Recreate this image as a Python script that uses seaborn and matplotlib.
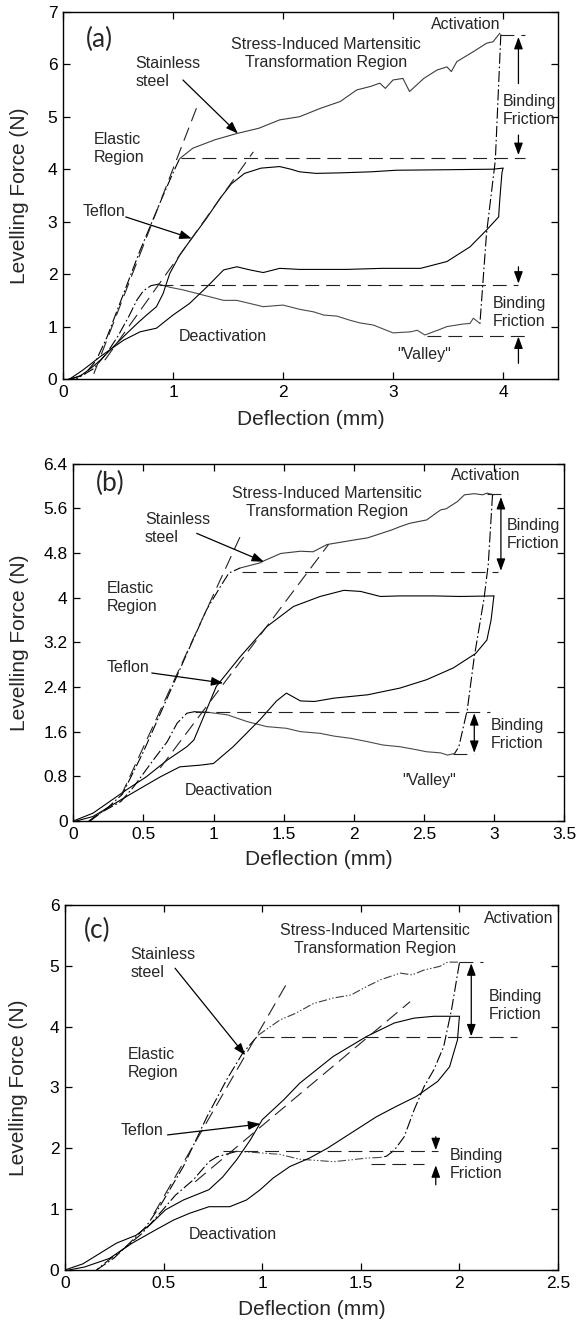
import numpy as np
import seaborn as sns
import matplotlib
import matplotlib.pyplot as plt
from matplotlib.ticker import FuncFormatter

# ---------------- panel (a) ----------------
a_ss_load_x = [0.08, 0.2, 0.3, 0.4, 0.5, 0.6, 0.7, 0.8, 0.9, 1.0, 1.06]
a_ss_load_y = [0.0, 0.1, 0.35, 0.8, 1.35, 1.9, 2.45, 2.95, 3.45, 3.93, 4.2]
a_ss_plat_x = [1.06, 1.18, 1.38, 1.58, 1.78, 1.97, 2.15, 2.34, 2.52, 2.67, 2.80, 2.88,
               2.93, 3.0, 3.09, 3.15, 3.28, 3.40, 3.49, 3.53, 3.58, 3.73, 3.85, 3.91, 3.97]
a_ss_plat_y = [4.2, 4.40, 4.56, 4.68, 4.78, 4.94, 5.0, 5.16, 5.29, 5.51, 5.58, 5.64,
               5.54, 5.70, 5.73, 5.48, 5.73, 5.89, 5.95, 5.86, 6.05, 6.24, 6.40, 6.43, 6.59]
a_ss_unload_x = [3.98, 3.93, 3.85, 3.79]
a_ss_unload_y = [6.57, 4.17, 2.78, 1.06]
a_ss_deact_x = [3.79, 3.73, 3.70, 3.64, 3.49, 3.43, 3.29, 3.22, 3.16, 3.0, 2.94, 2.82, 2.70,
                2.61, 2.49, 2.37, 2.28, 2.15, 2.0, 1.82, 1.58, 1.46, 1.22, 1.09, 0.97, 0.87]
a_ss_deact_y = [1.06, 1.16, 1.06, 1.05, 1.0, 0.95, 0.84, 0.93, 0.90, 0.88, 0.93, 1.03, 1.07,
                1.12, 1.20, 1.22, 1.28, 1.33, 1.41, 1.38, 1.50, 1.50, 1.63, 1.70, 1.75, 1.81]
a_ss_ret_x = [0.87, 0.80, 0.73, 0.67, 0.60, 0.50, 0.40, 0.28, 0.12]
a_ss_ret_y = [1.81, 1.78, 1.68, 1.50, 1.20, 0.82, 0.50, 0.20, 0.0]
a_tef_load_x = [0.05, 0.15, 0.25, 0.34, 0.45, 0.58, 0.68, 0.76, 0.85, 0.91, 0.97, 1.06, 1.17,
                1.30, 1.43, 1.53, 1.65, 1.80, 1.97, 2.07, 2.15, 2.3, 2.52, 2.8, 3.03, 3.5, 3.91, 4.0]
a_tef_load_y = [0.0, 0.05, 0.2, 0.36, 0.6, 0.87, 1.07, 1.22, 1.38, 1.63, 2.01, 2.36, 2.68,
                3.05, 3.45, 3.72, 3.92, 4.02, 4.05, 4.0, 3.95, 3.92, 3.93, 3.95, 3.98, 3.99, 4.0, 4.02]
a_tef_unload_x = [4.0, 3.99, 3.97, 3.96, 3.85, 3.70, 3.49, 3.25, 2.9, 2.58, 2.15, 1.97, 1.82,
                  1.70, 1.58, 1.46, 1.31, 1.15, 1.0, 0.94, 0.85, 0.70, 0.55, 0.34, 0.18, 0.06]
a_tef_unload_y = [4.02, 3.93, 3.41, 3.09, 2.84, 2.52, 2.24, 2.11, 2.11, 2.09, 2.09, 2.11, 2.03,
                  2.08, 2.14, 2.08, 1.76, 1.44, 1.22, 1.12, 0.97, 0.90, 0.74, 0.43, 0.17, 0.0]
a_tan_x = [[0.28, 1.22], [0.38, 1.73]]
a_tan_y = [[0.1, 5.2], [0.36, 4.33]]
a_levels = [6.55, 4.22, 1.79, 0.82]
a_level_x0 = [3.97, 1.07, 0.87, 3.31]
a_level_x1 = [4.20, 4.20, 4.14, 4.22]

# ---------------- panel (b) ----------------
b_ss_load_x = [0.12, 0.25, 0.35, 0.5, 0.65, 0.8, 0.95, 1.05, 1.11, 1.19]
b_ss_load_y = [0.0, 0.25, 0.48, 1.24, 2.09, 2.94, 3.78, 4.2, 4.44, 4.53]
b_ss_plat_x = [1.19, 1.33, 1.37, 1.48, 1.62, 1.71, 1.81, 2.0, 2.10, 2.27, 2.33, 2.40, 2.52,
               2.62, 2.66, 2.74, 2.79, 2.86, 2.92, 2.95, 3.0]
b_ss_plat_y = [4.53, 4.62, 4.67, 4.79, 4.83, 4.82, 4.95, 5.03, 5.07, 5.21, 5.27, 5.33, 5.39,
               5.57, 5.59, 5.72, 5.84, 5.86, 5.84, 5.87, 5.84]
b_ss_unload_x = [2.99, 2.96, 2.93, 2.86, 2.81, 2.75, 2.72]
b_ss_unload_y = [5.84, 4.6, 3.99, 2.94, 1.99, 1.33, 1.21]
b_ss_deact_x = [2.72, 2.67, 2.62, 2.52, 2.44, 2.33, 2.21, 2.10, 1.98, 1.86, 1.76, 1.62, 1.52,
                1.38, 1.24, 1.10, 0.95, 0.87]
b_ss_deact_y = [1.21, 1.18, 1.22, 1.24, 1.28, 1.33, 1.36, 1.42, 1.48, 1.52, 1.57, 1.60, 1.66,
                1.69, 1.78, 1.90, 1.95, 1.96]
b_ss_ret_x = [0.87, 0.81, 0.74, 0.67, 0.57, 0.43, 0.34, 0.19, 0.11]
b_ss_ret_y = [1.96, 1.93, 1.75, 1.42, 1.09, 0.61, 0.35, 0.14, 0.0]
b_tef_load_x = [0.0, 0.14, 0.38, 0.52, 0.67, 0.81, 0.86, 0.93, 1.02, 1.19, 1.38, 1.57, 1.76,
                1.93, 2.05, 2.19, 2.33, 2.57, 2.76, 3.0]
b_tef_load_y = [0.0, 0.14, 0.56, 0.79, 1.09, 1.33, 1.45, 1.87, 2.41, 2.94, 3.48, 3.84, 4.02,
                4.13, 4.11, 4.02, 4.03, 4.03, 4.02, 4.03]
b_tef_unload_x = [3.0, 2.98, 2.95, 2.87, 2.71, 2.52, 2.33, 2.10, 1.86, 1.72, 1.62, 1.52, 1.45,
                  1.33, 1.14, 1.0, 0.905, 0.76, 0.62, 0.38, 0.14, 0.02]
b_tef_unload_y = [4.03, 3.60, 3.24, 3.0, 2.74, 2.53, 2.38, 2.26, 2.20, 2.14, 2.15, 2.29, 2.15,
                  1.81, 1.33, 1.03, 1.0, 0.97, 0.79, 0.44, 0.08, 0.0]
b_tan_x = [[0.34, 1.19], [0.62, 1.82]]
b_tan_y = [[0.45, 5.09], [0.95, 4.95]]
b_levels = [5.85, 4.46, 1.95, 1.20]
b_level_x0 = [2.95, 1.20, 0.87, 2.71]
b_level_x1 = [3.10, 3.03, 2.97, 2.86]

# ---------------- panel (c) ----------------
c_ss_load_x = [0.16, 0.25, 0.33, 0.41, 0.48, 0.60, 0.72, 0.82, 0.90, 0.98]
c_ss_load_y = [0.0, 0.2, 0.45, 0.71, 1.04, 1.70, 2.52, 3.13, 3.56, 3.86]
c_ss_plat_x = [0.98, 1.09, 1.17, 1.26, 1.36, 1.45, 1.53, 1.60, 1.70, 1.76, 1.82, 1.90, 1.94, 2.0]
c_ss_plat_y = [3.86, 4.11, 4.22, 4.38, 4.47, 4.52, 4.66, 4.77, 4.88, 4.85, 4.93, 4.99, 5.06, 5.06]
c_ss_unload_x = [2.0, 1.96, 1.92, 1.87, 1.82, 1.77, 1.72, 1.67, 1.63, 1.60]
c_ss_unload_y = [5.05, 4.28, 3.67, 3.29, 3.01, 2.63, 2.19, 1.97, 1.87, 1.85]
c_ss_deact_x = [1.60, 1.53, 1.45, 1.36, 1.28, 1.19, 1.09, 0.97, 0.87]
c_ss_deact_y = [1.85, 1.84, 1.81, 1.78, 1.80, 1.82, 1.90, 1.93, 1.95]
c_ss_ret_x = [0.87, 0.77, 0.73, 0.65, 0.56, 0.48, 0.39, 0.31, 0.22, 0.16]
c_ss_ret_y = [1.95, 1.86, 1.78, 1.48, 1.23, 0.93, 0.60, 0.38, 0.16, 0.0]
c_tef_load_x = [0.0, 0.09, 0.26, 0.36, 0.43, 0.51, 0.60, 0.73, 0.80, 0.87, 0.94, 1.0, 1.11,
                1.19, 1.36, 1.53, 1.67, 1.77, 1.87, 2.0]
c_tef_load_y = [0.0, 0.1, 0.44, 0.57, 0.74, 0.99, 1.15, 1.32, 1.53, 1.81, 2.14, 2.47, 2.80,
                3.07, 3.51, 3.84, 4.06, 4.14, 4.17, 4.17]
c_tef_unload_x = [2.0, 1.99, 1.95, 1.89, 1.78, 1.68, 1.58, 1.45, 1.33, 1.24, 1.14, 1.055, 0.99,
                  0.92, 0.835, 0.73, 0.63, 0.55, 0.46, 0.34, 0.225, 0.10, 0.02]
c_tef_unload_y = [4.17, 3.78, 3.34, 3.10, 2.85, 2.69, 2.52, 2.25, 2.0, 1.84, 1.70, 1.51, 1.32,
                  1.15, 1.04, 1.04, 0.93, 0.82, 0.66, 0.44, 0.19, 0.05, 0.0]
c_tan_x = [[0.45, 1.13], [0.66, 1.75]]
c_tan_y = [[0.92, 4.74], [1.45, 4.41]]
c_levels = [5.06, 3.83, 1.96, 1.74]
c_level_x0 = [2.00, 0.99, 0.80, 1.55]
c_level_x1 = [2.12, 2.29, 1.89, 1.82]

sns.set_theme(style="ticks")
plt.rcParams['font.family'] = ['Liberation Sans', 'DejaVu Sans']
plt.rcParams['lines.scale_dashes'] = False

DASH = (0, (10, 5))
DASHDOT = (0, (8, 2, 1.2, 2))
DASHDOTDOT = (0, (6, 1.5, 1, 1.5, 1, 1.5))
TXT = 11.5


def curva(ax, xs, ys, ls='-', color='black', lw=0.8):
    sns.lineplot(x=xs, y=ys, ax=ax, sort=False, estimator=None,
                 color=color, lw=lw, linestyle=ls)


def flecha(ax, x0, y0, x1, y1, style='-|>'):
    ax.annotate('', xy=(x1, y1), xytext=(x0, y0),
                arrowprops=dict(arrowstyle=style + ',head_length=0.6,head_width=0.22',
                                color='black', lw=0.9, shrinkA=0, shrinkB=0,
                                mutation_scale=12))


def panel(ax, d, lab, xlim, xt, ylim, yt, lbl_pos, ylab_x, xlab_y, noisy='-'):
    (ssl, ssp, ssu, ssd, ssr, tl, tu, tanx, tany, lev, lx0, lx1) = d
    curva(ax, *ssl, ls=DASHDOT)
    curva(ax, *ssp, ls=noisy, color='#3c3c3c')
    curva(ax, *ssu, ls=DASHDOT)
    curva(ax, *ssd, ls=noisy, color='#4a4a4a')
    curva(ax, *ssr, ls=DASHDOT)
    curva(ax, *tl)
    curva(ax, *tu)
    for tx, ty in zip(tanx, tany):
        curva(ax, tx, ty, ls=DASH, color='#222222')
    for v, x0, x1 in zip(lev, lx0, lx1):
        curva(ax, [x0, x1], [v, v], ls=DASH, color='#222222')

    ax.set_xlim(*xlim)
    ax.set_ylim(*ylim)
    ax.set_xticks(xt)
    ax.set_yticks(yt)
    fmt = FuncFormatter(lambda v, p: f'{round(v, 3):g}')
    ax.xaxis.set_major_formatter(fmt)
    ax.yaxis.set_major_formatter(fmt)
    ax.tick_params(direction='in', length=5, width=0.9, top=True, right=True,
                   labelsize=12.5, pad=4, colors='black')
    for s in ax.spines.values():
        s.set_linewidth(1.0)
        s.set_color('black')
    ax.set_xlabel('Deflection (mm)', fontsize=15, va='top')
    ax.set_ylabel('Levelling Force (N)', fontsize=15)
    ax.xaxis.set_label_coords(0.5, xlab_y)
    ax.yaxis.set_label_coords(ylab_x, 0.5)
    ax.text(lbl_pos[0], lbl_pos[1], lab, transform=ax.transAxes, fontsize=19,
            family=['Lato', 'DejaVu Sans'], ha='center', va='center')


fig = plt.figure(figsize=(5.79, 13.24), dpi=100)

# ---- (a)
ax = fig.add_axes([0.1088, 0.7137, 0.855, 0.2774])
panel(ax, ((a_ss_load_x, a_ss_load_y), (a_ss_plat_x, a_ss_plat_y), (a_ss_unload_x, a_ss_unload_y),
           (a_ss_deact_x, a_ss_deact_y), (a_ss_ret_x, a_ss_ret_y), (a_tef_load_x, a_tef_load_y),
           (a_tef_unload_x, a_tef_unload_y), a_tan_x, a_tan_y, a_levels, a_level_x0, a_level_x1),
      '(a)', (0, 4.5), [0, 1, 2, 3, 4], (0, 7), list(range(8)), (0.074, 0.925), -0.069, -0.084)
ax.text(3.66, 6.75, 'Activation', fontsize=TXT, ha='center', va='center')
ax.text(2.39, 6.21, 'Stress-Induced Martensitic\nTransformation Region', fontsize=TXT,
        ha='center', va='center', linespacing=1.25)
ax.text(0.66, 5.84, 'Stainless\nsteel', fontsize=TXT, ha='left', va='center', linespacing=1.25)
ax.text(0.28, 4.40, 'Elastic\nRegion', fontsize=TXT, ha='left', va='center', linespacing=1.25)
ax.text(0.37, 3.19, 'Teflon', fontsize=TXT, ha='center', va='center')
ax.text(1.45, 0.81, 'Deactivation', fontsize=TXT, ha='center', va='center')
ax.text(3.28, 0.46, '"Valley"', fontsize=TXT, ha='center', va='center')
ax.text(4.0, 5.11, 'Binding\nFriction', fontsize=TXT, ha='left', va='center', linespacing=1.25)
ax.text(3.91, 1.26, 'Binding\nFriction', fontsize=TXT, ha='left', va='center', linespacing=1.25)
flecha(ax, 1.09, 5.70, 1.59, 4.68)
flecha(ax, 0.57, 3.09, 1.17, 2.68)
flecha(ax, 4.14, 5.63, 4.14, 6.52)
flecha(ax, 4.14, 4.65, 4.14, 4.27)
flecha(ax, 4.14, 2.14, 4.14, 1.82)
flecha(ax, 4.14, 0.30, 4.14, 0.81)

# ---- (b)
ax = fig.add_axes([0.1266, 0.3799, 0.8475, 0.2700])
panel(ax, ((b_ss_load_x, b_ss_load_y), (b_ss_plat_x, b_ss_plat_y), (b_ss_unload_x, b_ss_unload_y),
           (b_ss_deact_x, b_ss_deact_y), (b_ss_ret_x, b_ss_ret_y), (b_tef_load_x, b_tef_load_y),
           (b_tef_unload_x, b_tef_unload_y), b_tan_x, b_tan_y, b_levels, b_level_x0, b_level_x1),
      '(b)', (0, 3.5), np.arange(0, 3.51, 0.5), (0, 6.4), np.arange(0, 6.41, 0.8),
      (0.075, 0.944), -0.090, -0.082)
ax.text(2.94, 6.18, 'Activation', fontsize=TXT, ha='center', va='center')
ax.text(1.81, 5.71, 'Stress-Induced Martensitic\nTransformation Region', fontsize=TXT,
        ha='center', va='center', linespacing=1.25)
ax.text(0.51, 5.24, 'Stainless\nsteel', fontsize=TXT, ha='left', va='center', linespacing=1.25)
ax.text(0.24, 4.01, 'Elastic\nRegion', fontsize=TXT, ha='left', va='center', linespacing=1.25)
ax.text(0.39, 2.74, 'Teflon', fontsize=TXT, ha='center', va='center')
ax.text(1.11, 0.54, 'Deactivation', fontsize=TXT, ha='center', va='center')
ax.text(2.54, 0.73, '"Valley"', fontsize=TXT, ha='center', va='center')
ax.text(3.09, 5.13, 'Binding\nFriction', fontsize=TXT, ha='left', va='center', linespacing=1.25)
ax.text(2.98, 1.55, 'Binding\nFriction', fontsize=TXT, ha='left', va='center', linespacing=1.25)
flecha(ax, 0.88, 5.15, 1.36, 4.64)
flecha(ax, 0.56, 2.65, 1.07, 2.47)
flecha(ax, 3.05, 5.80, 3.05, 4.48, style='<|-|>')
flecha(ax, 2.86, 1.93, 2.86, 1.22, style='<|-|>')

# ---- (c)
ax = fig.add_axes([0.1123, 0.0408, 0.8515, 0.2757])
panel(ax, ((c_ss_load_x, c_ss_load_y), (c_ss_plat_x, c_ss_plat_y), (c_ss_unload_x, c_ss_unload_y),
           (c_ss_deact_x, c_ss_deact_y), (c_ss_ret_x, c_ss_ret_y), (c_tef_load_x, c_tef_load_y),
           (c_tef_unload_x, c_tef_unload_y), c_tan_x, c_tan_y, c_levels, c_level_x0, c_level_x1),
      '(c)', (0, 2.5), np.arange(0, 2.51, 0.5), (0, 6), list(range(7)),
      (0.066, 0.93), -0.0745, -0.081, noisy=DASHDOTDOT)
ax.text(2.30, 5.77, 'Activation', fontsize=TXT, ha='center', va='center')
ax.text(1.57, 5.43, 'Stress-Induced Martensitic\nTransformation Region', fontsize=TXT,
        ha='center', va='center', linespacing=1.25)
ax.text(0.333, 5.03, 'Stainless\nsteel', fontsize=TXT, ha='left', va='center', linespacing=1.25)
ax.text(0.318, 3.40, 'Elastic\nRegion', fontsize=TXT, ha='left', va='center', linespacing=1.25)
ax.text(0.39, 2.30, 'Teflon', fontsize=TXT, ha='center', va='center')
ax.text(0.85, 0.58, 'Deactivation', fontsize=TXT, ha='center', va='center')
ax.text(2.15, 4.35, 'Binding\nFriction', fontsize=TXT, ha='left', va='center', linespacing=1.25)
ax.text(1.95, 1.74, 'Binding\nFriction', fontsize=TXT, ha='left', va='center', linespacing=1.25)
flecha(ax, 0.558, 4.96, 0.914, 3.53)
flecha(ax, 0.52, 2.22, 0.99, 2.40)
flecha(ax, 2.06, 5.04, 2.06, 3.84, style='<|-|>')
flecha(ax, 1.88, 2.19, 1.88, 1.97)
flecha(ax, 1.88, 1.40, 1.88, 1.72)

fig.savefig('out.png', dpi=100, facecolor='white')
